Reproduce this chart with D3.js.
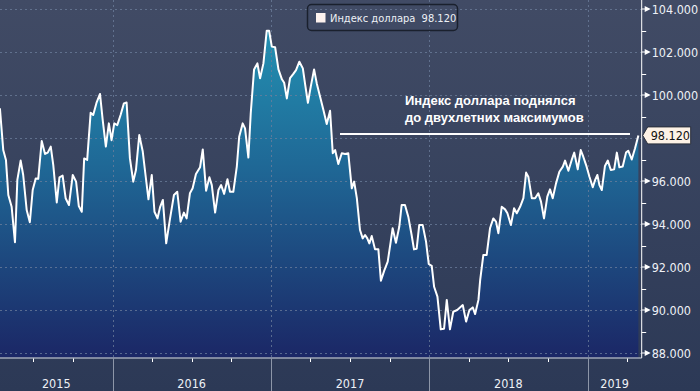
<!DOCTYPE html>
<html><head><meta charset="utf-8">
<script src="https://cdn.jsdelivr.net/npm/d3@7"></script>
<style>html,body{margin:0;padding:0;background:#34405b;}svg{display:block;}</style>
</head><body>
<svg id="c" width="700" height="391"></svg>
<script>
// decimal-year positions and weekly DXY values
const years = [2015.289,2015.310,2015.327,2015.342,2015.363,2015.384,2015.399,2015.420,2015.436,2015.458,2015.478,2015.496,2015.515,2015.531,2015.553,2015.574,2015.591,2015.610,2015.626,2015.648,2015.665,2015.685,2015.704,2015.725,2015.749,2015.770,2015.787,2015.806,2015.821,2015.840,2015.862,2015.878,2015.900,2015.921,2015.938,2015.958,2015.977,2015.994,
2016.011,2016.030,2016.051,2016.072,2016.089,2016.110,2016.131,2016.148,2016.169,2016.191,2016.206,2016.227,2016.248,2016.265,2016.284,2016.301,2016.318,2016.339,2016.362,2016.388,2016.409,2016.430,2016.451,2016.468,2016.489,2016.506,2016.527,2016.553,2016.570,2016.591,2016.612,2016.627,2016.648,2016.669,2016.686,2016.705,2016.726,2016.742,2016.763,2016.785,2016.800,2016.822,2016.837,2016.858,2016.873,2016.894,2016.915,2016.932,2016.953,2016.974,2016.989,
2017.006,2017.027,2017.048,2017.070,2017.084,2017.101,2017.121,2017.142,2017.159,2017.180,2017.202,2017.217,2017.234,2017.252,2017.273,2017.290,2017.311,2017.332,2017.353,2017.374,2017.391,2017.406,2017.426,2017.448,2017.469,2017.489,2017.511,2017.526,2017.543,2017.563,2017.580,2017.595,2017.609,2017.622,2017.637,2017.658,2017.679,2017.695,2017.716,2017.738,2017.757,2017.769,2017.790,2017.811,2017.826,2017.847,2017.868,2017.889,2017.904,2017.921,2017.937,2017.959,2017.980,2017.997,
2018.016,2018.031,2018.052,2018.073,2018.094,2018.111,2018.131,2018.152,2018.177,2018.212,2018.233,2018.254,2018.275,2018.290,2018.311,2018.322,2018.342,2018.363,2018.384,2018.405,2018.422,2018.437,2018.458,2018.479,2018.494,2018.516,2018.536,2018.553,2018.574,2018.595,2018.612,2018.626,2018.648,2018.669,2018.689,2018.706,2018.725,2018.746,2018.763,2018.780,2018.801,2018.822,2018.844,2018.858,2018.879,2018.900,2018.916,2018.938,2018.957,2018.973,2018.991,
2019.012,2019.033,2019.048,2019.062,2019.075,2019.090,2019.110,2019.128,2019.147,2019.168,2019.185,2019.201,2019.222,2019.243,2019.257,2019.279,2019.300,2019.321];
const values = [99.38,97.44,96.98,95.35,94.8,93.15,96.05,96.95,96.28,94.65,94.08,95.58,96.12,96.1,97.86,97.26,97.32,97.6,96.74,95.0,96.17,96.25,95.2,94.88,96.28,95.97,94.84,94.57,97.05,96.98,99.18,99.07,99.66,100.05,98.84,97.6,98.68,97.9,
98.68,98.6,99.07,99.61,99.65,97.05,95.97,96.51,98.14,97.37,96.43,95.15,96.28,94.57,94.26,94.8,95.12,93.1,94.19,95.35,95.5,94.11,94.53,94.26,95.43,95.66,96.33,96.64,97.47,95.55,96.17,95.81,94.53,95.58,95.81,95.4,96.08,95.5,95.5,96.67,98.06,98.68,98.45,97.09,99.15,101.19,101.47,100.78,101.47,102.99,102.99,
102.25,102.22,101.19,100.73,100.57,99.84,100.78,100.98,101.16,101.55,101.24,100.47,99.64,100.39,101.19,100.54,99.92,99.3,98.65,99.27,97.29,97.44,96.79,97.29,97.26,97.29,95.66,95.97,95.2,93.72,93.33,93.49,93.33,93.1,93.44,92.82,92.82,91.36,91.83,92.25,93.18,93.8,93.13,93.87,94.88,94.88,94.34,93.49,92.82,92.85,93.95,93.95,93.18,92.14,
92.05,91.08,90.62,89.1,89.13,90.47,89.1,89.92,90.0,90.23,89.46,90.0,90.12,89.81,90.47,91.4,92.56,92.56,93.8,94.26,94.11,93.57,94.8,94.68,94.5,93.95,94.73,94.5,94.8,95.2,96.39,96.2,95.2,95.2,95.43,95.04,94.26,95.27,95.61,95.2,95.89,96.43,96.67,96.95,96.48,96.98,97.32,96.54,97.44,97.13,96.74,
96.2,95.71,96.05,96.28,95.81,95.58,96.7,96.95,96.51,96.54,97.32,96.64,96.67,97.32,97.41,97.0,97.52,98.12];

const yearLabels = ["2015","2016","2017","2018","2019"];
const yTicks = [88,90,92,94,96,98,100,102,104];
const yMinor = [89,91,93,95,97,99,101,103];
const seriesName = "Индекс доллара";
const lastValue = 98.12;
const annotation = ["Индекс доллара поднялся","до двухлетних максимумов"];

const svg = d3.select("#c");
const W = 700, H = 391;
const plotR = 641.7, plotB = 357.5;
const x = d3.scaleLinear().domain([2015.2895, 2019.342]).range([0, plotR]);
const y = d3.scaleLinear().domain([88, 104]).range([353, 9]);
const fmt = d3.format(".3f");

const defs = svg.append("defs");
const bg = defs.append("linearGradient").attr("id","bg").attr("x1",0).attr("y1",0).attr("x2",0).attr("y2",1);
bg.append("stop").attr("offset","0").attr("stop-color","#414b65");
bg.append("stop").attr("offset","1").attr("stop-color","#2c3956");
const ag = defs.append("linearGradient").attr("id","ag").attr("gradientUnits","userSpaceOnUse")
  .attr("x1",0).attr("y1",y(104)).attr("x2",0).attr("y2",plotB);
ag.append("stop").attr("offset","0").attr("stop-color","#2497b6");
ag.append("stop").attr("offset","0.45").attr("stop-color","#1f6896");
ag.append("stop").attr("offset","1").attr("stop-color","#1b2766");

svg.append("rect").attr("width",W).attr("height",H).attr("fill","url(#bg)");

const data = years.map((t,i)=>({t, v: values[i]}));

svg.append("path").datum(data)
  .attr("d", d3.area().x(d=>x(d.t)).y0(plotB).y1(d=>y(d.v)))
  .attr("fill","url(#ag)");

// grid
const grid = svg.append("g").attr("stroke","#6e7f9c").attr("stroke-opacity",0.75).attr("stroke-dasharray","2,3").attr("stroke-width",1);
grid.selectAll("line.h").data(yTicks).join("line")
  .attr("x1",0).attr("x2",plotR).attr("y1",d=>Math.round(y(d))+0.5).attr("y2",d=>Math.round(y(d))+0.5);
const yearBounds = [2016,2017,2018,2019];
grid.selectAll("line.v").data(yearBounds).join("line")
  .attr("y1",0).attr("y2",plotB).attr("x1",d=>Math.round(x(d))+0.5).attr("x2",d=>Math.round(x(d))+0.5);

svg.append("path").datum(data)
  .attr("d", d3.line().x(d=>x(d.t)).y(d=>y(d.v)))
  .attr("fill","none").attr("stroke","#ffffff").attr("stroke-width",2).attr("stroke-linejoin","round");

// right axis
svg.append("line").attr("x1",plotR).attr("x2",plotR).attr("y1",0).attr("y2",plotB+0.5).attr("stroke","#fff").attr("stroke-width",1);
svg.append("line").attr("x1",0).attr("x2",plotR).attr("y1",plotB+0.5).attr("y2",plotB+0.5).attr("stroke","#d8dce6").attr("stroke-width",1);
const ya = svg.append("g");
ya.selectAll("line.m").data(yMinor).join("line")
  .attr("x1",plotR).attr("x2",plotR+4.5).attr("y1",d=>Math.round(y(d))+0.5).attr("y2",d=>Math.round(y(d))+0.5)
  .attr("stroke","#fff");
ya.selectAll("path.t").data(yTicks.filter(v=>v!==98)).join("path")
  .attr("d",d=>{const yy=y(d);return `M${plotR},${yy-0.5}L${plotR+3},${yy-0.5}L${plotR+3},${yy-3}L${plotR+9},${yy}L${plotR+3},${yy+3}L${plotR+3},${yy+0.5}L${plotR},${yy+0.5}Z`;})
  .attr("fill","#fff");
ya.selectAll("text").data(yTicks.filter(v=>v!==98)).join("text")
  .attr("x",plotR+10).attr("y",d=>y(d)+4.5)
  .attr("font-family","'DejaVu Sans Condensed','DejaVu Sans',sans-serif").attr("font-size",12.5)
  .attr("fill","#eef1f6").text(d=>fmt(d));

// last value flag
const yc = y(lastValue);
svg.append("path")
  .attr("d",`M${plotR+1},${yc}L${plotR+6},${yc-8.5}L${plotR+49},${yc-8.5}L${plotR+49},${yc+8.5}L${plotR+6},${yc+8.5}Z`)
  .attr("fill","#fdf2e6").attr("stroke","#2a2f3a").attr("stroke-width",1);
svg.append("text").attr("x",plotR+9).attr("y",yc+4.5)
  .attr("font-family","'DejaVu Sans Condensed','DejaVu Sans',sans-serif").attr("font-size",12.5)
  .attr("fill","#111").text(fmt(lastValue));

// x axis band
const xa = svg.append("g");
xa.selectAll("line.sep").data(yearBounds).join("line")
  .attr("x1",d=>Math.round(x(d))+0.5).attr("x2",d=>Math.round(x(d))+0.5).attr("y1",plotB+1).attr("y2",H)
  .attr("stroke","#8d96a8").attr("stroke-width",1);
const quarters = [];
[2015,2016,2017,2018,2019].forEach(yr=>[0.25,0.5,0.75].forEach(q=>{const t=yr+q; if(t>x.domain()[0] && t<x.domain()[1]) quarters.push(t);}));
xa.selectAll("line.q").data(quarters).join("line")
  .attr("x1",d=>Math.round(x(d))+0.5).attr("x2",d=>Math.round(x(d))+0.5).attr("y1",plotB+1).attr("y2",plotB+4.5)
  .attr("stroke","#fff").attr("stroke-width",1);
const segs = yearLabels.map((lab,i)=>{const yr=+lab; const a=Math.max(0,x(yr)), b=Math.min(plotR,x(yr+1)); return {lab, cx:(a+b)/2};});
xa.selectAll("text").data(segs).join("text")
  .attr("x",d=>d.cx).attr("y",388).attr("text-anchor","middle")
  .attr("font-family","'DejaVu Sans Condensed','DejaVu Sans',sans-serif").attr("font-size",12.5)
  .attr("fill","#eef1f6").text(d=>d.lab);

// legend
svg.append("rect").attr("x",307.5).attr("y",4.5).attr("width",150).attr("height",26).attr("rx",4)
  .attr("fill","none").attr("stroke","#1a202d").attr("stroke-width",1.5);
svg.append("rect").attr("x",316).attr("y",13).attr("width",9.5).attr("height",9.5).attr("fill","#fdf2ee");
svg.append("text").attr("x",330).attr("y",22)
  .attr("font-family","'DejaVu Sans Condensed','DejaVu Sans',sans-serif").attr("font-size",11)
  .attr("fill","#eef1f6").attr("xml:space","preserve").text(seriesName + "  " + fmt(lastValue));

// annotation
svg.append("g").selectAll("text").data(annotation).join("text")
  .attr("x",405).attr("y",(d,i)=>105+i*16.5)
  .attr("font-family","'Liberation Sans',Arial,sans-serif").attr("font-weight","bold").attr("font-size",13)
  .attr("fill","#ffffff").text(d=>d);
svg.append("line").attr("x1",340).attr("x2",630).attr("y1",134).attr("y2",134).attr("stroke","#fff").attr("stroke-width",2);
</script>
</body></html>
